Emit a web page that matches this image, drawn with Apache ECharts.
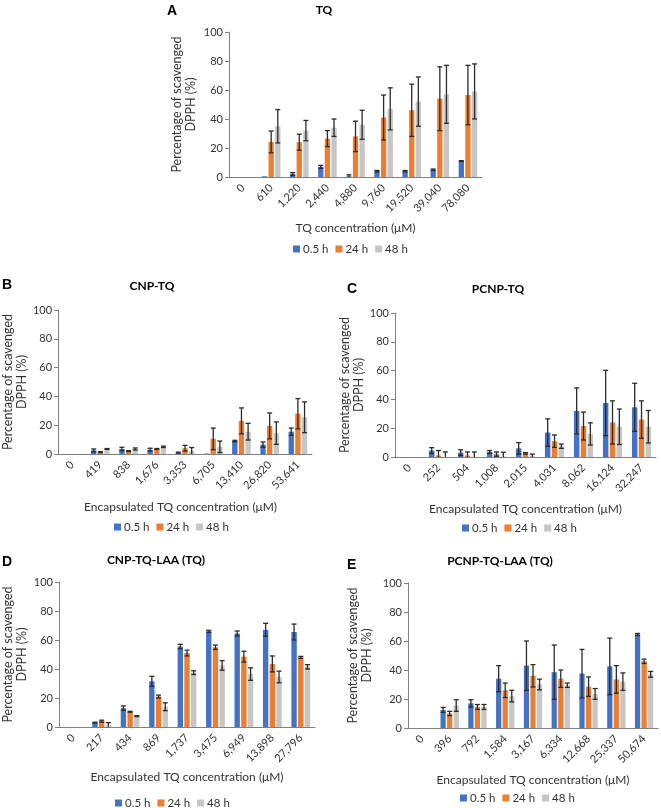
<!DOCTYPE html>
<html>
<head>
<meta charset="utf-8">
<script src="https://cdn.jsdelivr.net/npm/echarts@6/dist/echarts.min.js"></script>
<style>html,body{margin:0;padding:0;background:#fff}#c{width:661px;height:808px}</style>
</head>
<body>
<div id="c"></div>
<script>
// ---------- data ----------
const seriesNames = ['0.5 h', '24 h', '48 h'];
const yTicks = [0, 20, 40, 60, 80, 100];

const catsA = ['0', '610', '1,220', '2,440', '4,880', '9,760', '19,520', '39,040', '78,080'];
const a05 = [0, 0.5, 2, 7, 0.5, 4, 4, 5, 11];
const a24 = [0, 24.2, 24, 26.5, 28, 41, 46, 54, 56.5];
const a48 = [0, 35, 32, 34, 36, 47, 52, 57, 59];
const aErr05 = [0, 0, 1, 1, 1, 0.5, 0.5, 0.5, 0.3];
const aErr24 = [0, 7.5, 5.5, 5.5, 10.5, 15.5, 18, 22, 20.5];
const aErr48 = [0, 11.5, 7, 6, 10, 14.5, 17, 20, 19];

const catsB = ['0', '419', '838', '1,676', '3,353', '6,705', '13,410', '26,820', '53,641'];
const b05 = [0, 2.5, 3.5, 3, 1, 0.3, 9, 6.5, 15.5];
const b24 = [0, 1.3, 2, 3.5, 4, 10.5, 23, 19.5, 28];
const b48 = [0, 3.5, 3.5, 5, 2, 5, 15.5, 14.5, 25.5];
const bErr05 = [0, 1, 1.2, 1, 0.3, 0, 0.5, 1.8, 2.5];
const bErr24 = [0, 0.3, 0.3, 0.3, 2, 7.5, 9, 9, 10.5];
const bErr48 = [0, 0.3, 0.7, 0.5, 2.5, 4, 5.8, 7.8, 10.7];

const catsC = ['0', '252', '504', '1,008', '2,015', '4,031', '8,062', '16,124', '32,247'];
const c05 = [0, 4.5, 3, 3.5, 6, 17, 32, 37.5, 34.5];
const c24 = [0, 1, 1, 2, 2.5, 11, 21.5, 24, 26];
const c48 = [0, 0, 0, 0.3, 0.5, 7.5, 16, 21, 21];
const cErr05 = [0, 2, 2, 1, 4, 9.5, 16, 22.7, 16.7];
const cErr24 = [0, 3.5, 2.5, 1.5, 0.5, 4.3, 9.7, 15, 13];
const cErr48 = [0, 3.5, 3.5, 3, 1.5, 1.5, 7.7, 12.3, 11.3];

const catsD = ['0', '217', '434', '869', '1,737', '3,475', '6,949', '13,898', '27,796'];
const d05 = [0, 3, 13, 31.5, 55.5, 66, 64.5, 67, 65.5];
const d24 = [0, 4, 10.5, 21, 51, 55, 48.5, 43.5, 48];
const d48 = [0, 1, 7.5, 14, 37.5, 42.5, 36.5, 34.5, 41.5];
const dErr05 = [0, 0.3, 1.5, 3.5, 1.5, 0.7, 1.7, 4.5, 5.5];
const dErr24 = [0, 0.7, 0.3, 1, 2, 1.5, 3.7, 5.5, 0.7];
const dErr48 = [0, 2, 0.3, 2.7, 1.3, 3.3, 4.3, 4, 1.5];

const catsE = ['0', '396', '792', '1,584', '3,167', '6,334', '12,668', '25,337', '50,674'];
const e05 = [0, 12.5, 17, 34, 43, 38.5, 37.5, 42.5, 64.5];
const e24 = [0, 10, 14.5, 26, 36, 34, 28.5, 33.5, 46];
const e48 = [0, 15.5, 14.5, 22, 30, 29.5, 23.5, 32, 37];
const eErr05 = [0, 1.7, 2.5, 9, 17, 18.7, 16.7, 19.5, 0.7];
const eErr24 = [0, 1.5, 1.7, 5, 7.7, 6, 6.7, 9.5, 1.5];
const eErr48 = [0, 4, 1.7, 4, 3.7, 1.5, 3.7, 6, 2];

// ---------- layout / style ----------
const FONT = 'Lato';
const TXT = '#333333';
const COLORS = ['#4472C4', '#ED7D31', '#C6C6C6'];
const CAT_GAP = 0.34, BAR_GAP = 0.25;

const panels = [
  { cats: catsA, vals: [a05, a24, a48], errs: [aErr05, aErr24, aErr48],
    letter: 'A', title: 'TQ', xName: 'TQ concentration (μM)',
    grid: { left: 229, top: 32, width: 253, height: 145 },
    letterPos: [167, 4], titlePos: [324, 4], yGap: 31, xNameY: 222, legendPos: [293, 243] },
  { cats: catsB, vals: [b05, b24, b48], errs: [bErr05, bErr24, bErr48],
    letter: 'B', title: 'CNP-TQ', xName: 'Encapsulated TQ concentration (μM)',
    grid: { left: 49, top: 310, width: 263, height: 144 },
    letterPos: [2, 278], titlePos: [152, 280], yGap: 21, xNameY: 501, legendPos: [114, 521] },
  { cats: catsC, vals: [c05, c24, c48], errs: [cErr05, cErr24, cErr48],
    letter: 'C', title: 'PCNP-TQ', xName: 'Encapsulated TQ concentration (μM)',
    grid: { left: 395, top: 313, width: 261, height: 144 },
    letterPos: [347, 282], titlePos: [498, 283], yGap: 21, xNameY: 503, legendPos: [462, 522] },
  { cats: catsD, vals: [d05, d24, d48], errs: [dErr05, dErr24, dErr48],
    letter: 'D', title: 'CNP-TQ-LAA (TQ)', xName: 'Encapsulated TQ concentration (μM)',
    grid: { left: 59, top: 582, width: 256, height: 145 },
    letterPos: [2, 555], titlePos: [156, 554], yGap: 30, xNameY: 771, legendPos: [115, 797] },
  { cats: catsE, vals: [e05, e24, e48], errs: [eErr05, eErr24, eErr48],
    letter: 'E', title: 'PCNP-TQ-LAA (TQ)', xName: 'Encapsulated TQ concentration (μM)',
    grid: { left: 408, top: 583, width: 250, height: 145 },
    letterPos: [347, 558], titlePos: [500, 555], yGap: 34, xNameY: 774, legendPos: [460, 792] }
];

const grids = [], xAxes = [], yAxes = [], series = [], titles = [], legends = [];

panels.forEach((p, pi) => {
  grids.push(Object.assign({ containLabel: false }, p.grid));
  xAxes.push({
    type: 'category', gridIndex: pi, data: p.cats,
    axisLine: { lineStyle: { color: '#808080', width: 1 } },
    axisTick: { show: false },
    axisLabel: { rotate: 45, fontFamily: FONT, fontSize: 11, color: TXT, margin: 9, interval: 0 }
  });
  yAxes.push({
    type: 'value', gridIndex: pi, min: yTicks[0], max: yTicks[yTicks.length - 1], interval: 20,
    name: 'Percentage of scavenged\nDPPH (%)', nameLocation: 'middle', nameRotate: 90, nameGap: p.yGap,
    nameTextStyle: { fontFamily: FONT, fontSize: 12.5, color: TXT, lineHeight: 14 },
    axisLine: { show: true, lineStyle: { color: '#808080', width: 1 } },
    axisTick: { show: true, length: 4, lineStyle: { color: '#808080' } },
    axisLabel: { fontFamily: FONT, fontSize: 11, color: TXT, margin: 6 },
    splitLine: { show: false }
  });
  titles.push({ text: p.letter, left: p.letterPos[0], top: p.letterPos[1], padding: 0,
    textStyle: { fontFamily: 'Liberation Sans', fontSize: 14, fontWeight: 'bold', color: '#000' } });
  titles.push({ text: p.title, left: p.titlePos[0], top: p.titlePos[1], textAlign: 'center', padding: 0,
    textStyle: { fontFamily: FONT, fontSize: 12, fontWeight: 'bold', color: '#000' } });
  // x-axis title
  titles.push({ text: p.xName, left: p.grid.left + p.grid.width / 2, top: p.xNameY, textAlign: 'center', padding: 0,
    textStyle: { fontFamily: FONT, fontSize: 12, fontWeight: 'normal', color: TXT } });
  legends.push({
    data: seriesNames, left: p.legendPos[0], top: p.legendPos[1], padding: 0,
    itemWidth: 7, itemHeight: 7, itemGap: 7, icon: 'rect',
    textStyle: { fontFamily: FONT, fontSize: 11.5, color: TXT, padding: [0, 0, 0, -2] }
  });
  for (let k = 0; k < 3; k++) {
    series.push({
      type: 'bar', name: seriesNames[k], xAxisIndex: pi, yAxisIndex: pi,
      data: p.vals[k], barGap: (BAR_GAP * 100) + '%', barCategoryGap: (CAT_GAP * 100) + '%',
      itemStyle: { color: COLORS[k] }, silent: true
    });
  }
  for (let k = 0; k < 3; k++) {
    const data = p.vals[k].map((v, i) => [i, v, p.errs[k][i]]);
    series.push({
      type: 'custom', name: seriesNames[k], xAxisIndex: pi, yAxisIndex: pi, z: 5, silent: true,
      data: data,
      renderItem: function (params, api) {
        const i = api.value(0), v = api.value(1), e = api.value(2);
        if (!e) return null;
        const band = api.size([1, 0])[0];
        const groupW = band * (1 - CAT_GAP);
        const bw = groupW / (3 + 2 * BAR_GAP);
        const cx = api.coord([i, 0])[0] - groupW / 2 + bw / 2 + k * bw * (1 + BAR_GAP);
        const yHi = api.coord([i, v + e])[1];
        const lowV = Math.max(0, v - e);
        const yLo = api.coord([i, lowV])[1];
        const st = { stroke: '#2b2b2b', lineWidth: 1.3 };
        const cap = 2.5;
        const ch = [
          { type: 'line', shape: { x1: cx, y1: yHi, x2: cx, y2: yLo }, style: st },
          { type: 'line', shape: { x1: cx - cap, y1: yHi, x2: cx + cap, y2: yHi }, style: st }
        ];
        if (v - e > 0) ch.push({ type: 'line', shape: { x1: cx - cap, y1: yLo, x2: cx + cap, y2: yLo }, style: st });
        return { type: 'group', children: ch };
      }
    });
  }
});

const chart = echarts.init(document.getElementById('c'), null, { renderer: 'canvas' });
chart.setOption({
  backgroundColor: '#fff',
  animation: false,
  title: titles,
  legend: legends,
  grid: grids,
  xAxis: xAxes,
  yAxis: yAxes,
  series: series
});
</script>
</body>
</html>
